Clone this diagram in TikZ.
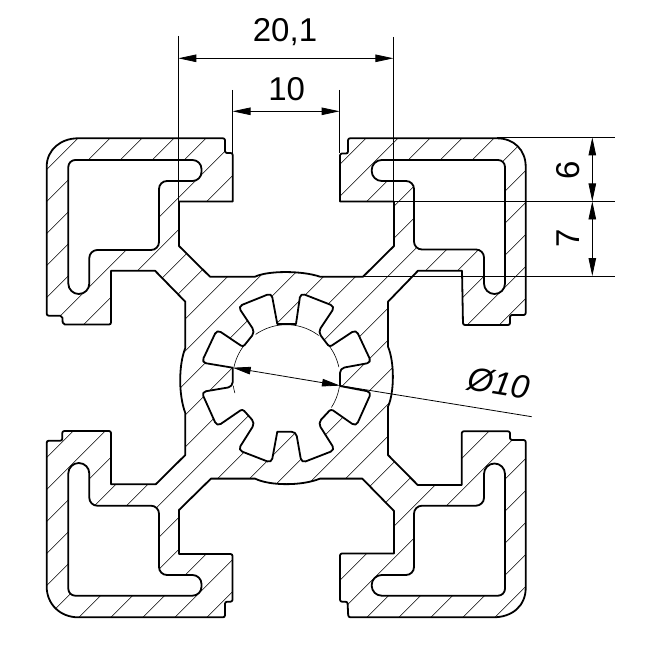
\documentclass[tikz,border=0pt]{standalone}
\usepackage{fontspec}
\setmainfont{Liberation Sans}
\usetikzlibrary{arrows.meta}
\tikzset{
  bold/.style={line width=1.8pt,line join=round,line cap=round},
  thinline/.style={line width=0.8pt},
  hatch/.style={line width=0.6pt},
  dimline/.style={line width=0.8pt,{Triangle[length=18pt,width=7.5pt]}-{Triangle[length=18pt,width=7.5pt]}},
  dimtext/.style={font=\fontsize{33}{33}\selectfont,inner sep=0pt},
}
\newcommand\profileoutline{
  (46.7,166.7) .. controls (46.7,149.5) and (61,138.3) .. (78,138.3)
  [rounded corners=2pt] -- (225,138.3) -- (225,153) -- (232.7,153)
  [sharp corners] -- (232.7,201.6) -- (179,201.6) -- (179,246) -- (210,276.7) -- (255,276.7)
  .. controls (268,270.5) and (302,270.5) .. (320,276.7)
  -- (363,276.7) -- (394,246) -- (394,201.6) -- (340,201.6)
  [rounded corners=2pt] -- (340,153.5) -- (348,153.5) -- (348,138.3)
  [sharp corners] -- (497,138.3) .. controls (514,138.3) and (525.7,150) .. (525.7,166.7)
  [rounded corners=2pt] -- (525.7,315) -- (510,315) -- (510,325) -- (463,325)
  [sharp corners] -- (462,270.7) -- (418,270.7) -- (388,301.7) -- (388,346.7)
  .. controls (394.5,362) and (394.5,392) .. (388,406.7)
  -- (388,455) -- (417.7,485) -- (461.7,485)
  [rounded corners=2pt] -- (461.7,431.3) -- (510,431.3) -- (510,440) -- (525.7,440)
  [sharp corners] -- (525.7,588) .. controls (525.7,606) and (512,617.3) .. (493.3,617.3)
  [rounded corners=2pt] -- (348.3,617.3) -- (347.5,601.7) -- (340,601.7) -- (340,553.5)
  [sharp corners] -- (394,553.5) -- (394,511) -- (362.3,478.6) -- (320,478.6)
  .. controls (302,486) and (270,486) .. (255,478.6)
  -- (211,478.6) -- (179,510) -- (179,554)
  [rounded corners=2pt] -- (232.5,554) -- (232.5,601.7) -- (225,601.7) -- (225,617.3)
  [sharp corners] -- (78.3,617.3) .. controls (60,617.3) and (46.7,604) .. (46.7,586.7)
  [rounded corners=2pt] -- (46.7,440.7) -- (62.3,440.7) -- (62.3,431) -- (111,431)
  [sharp corners] -- (111,484.3) -- (155.7,484.3) -- (185.3,455) -- (185.3,413)
  .. controls (178.5,395) and (178.5,365) .. (185.3,348)
  -- (185.3,301.7) -- (155,270.7) -- (111,270.7)
  [rounded corners=2pt] -- (111,324.5) -- (62.8,324.5) -- (62.3,315.7) -- (46.7,315.7)
  [sharp corners] -- cycle
}
\newcommand\cavityTL{
  [rounded corners=7pt] (68.3,220) -- (68.3,160) [rounded corners=9pt] -- (201.5,160) -- (201.5,181)
  [rounded corners=8pt] -- (159,181) -- (159,250) -- (89.3,250)
  [rounded corners=10.5pt] -- (89.3,294) -- (68.3,294) -- cycle
}
\newcommand\cavityTR{
  [rounded corners=7pt] (505,220) -- (505,160) [rounded corners=10pt] -- (371.7,160) -- (371.7,181)
  [rounded corners=8pt] -- (414,181) -- (414,249.5) -- (484,249.5)
  [rounded corners=10.5pt] -- (484,294) -- (505,294) -- cycle
}
\newcommand\cavityBL{
  [rounded corners=7pt] (68.3,540) -- (68.3,595.7) [rounded corners=9pt] -- (201.5,595.7) -- (201.5,575)
  [rounded corners=8pt] -- (159,575) -- (159,505.7) -- (89.3,505.7)
  [rounded corners=10.5pt] -- (89.3,463) -- (68.3,463) -- cycle
}
\newcommand\cavityBR{
  [rounded corners=7pt] (505,540) -- (505,595.7) [rounded corners=10pt] -- (371.7,595.7) -- (371.7,575)
  [rounded corners=8pt] -- (414,575) -- (414,505.7) -- (484,505.7)
  [rounded corners=10.5pt] -- (484,463.5) -- (505,463.5) -- cycle
}
\newcommand\starslot{
  [sharp corners] (286.5,324) -- (296,324) [rounded corners=4.5pt] -- (300.5,293) -- (335,306.5) -- (318,332) [rounded corners=2.5pt] -- (329.5,347)
  [rounded corners=4.5pt] -- (356,329.5) -- (371.5,362.5) -- (340,368.3)
  [sharp corners] -- (340,386) [rounded corners=4.5pt] -- (371.5,392) -- (356,426.5) [rounded corners=2.5pt] -- (331,409) [rounded corners=4.5pt] -- (318,423)
  -- (335,450) -- (301.5,463) -- (296,431.7) [sharp corners] -- (277.3,431.7) [rounded corners=4.5pt] -- (271.5,463) -- (238,450) -- (255,423) [rounded corners=2.5pt] -- (242.5,409)
  [rounded corners=4.5pt] -- (217,426.5) -- (201.5,392) -- (232.7,386.7)
  [sharp corners] -- (232.7,367.7) [rounded corners=4.5pt] -- (201.5,362.5) -- (217,329.5) [rounded corners=2.5pt] -- (243,347) [rounded corners=4.5pt] -- (255,332)
  -- (238,306.5) -- (271.5,293) [sharp corners] -- (277.3,324) -- cycle
}
\begin{document}
\begin{tikzpicture}[x=1pt,y=-1pt]
\useasboundingbox (0,0) rectangle (664,668);
\fill[white] (0,0) rectangle (664,668);
% hatching of the section
\begin{scope}
  \clip \profileoutline;
  \foreach \k in {-3,...,29}{
    \pgfmathsetmacro{\c}{248.3+32*\k}
    \draw[hatch] ({\c-100},100) -- ({\c-640},640);
  }
\end{scope}
\draw[bold] \profileoutline;
\filldraw[bold,fill=white] \cavityTL;
\filldraw[bold,fill=white] \cavityTR;
\filldraw[bold,fill=white] \cavityBL;
\filldraw[bold,fill=white] \cavityBR;
\filldraw[bold,fill=white] \starslot;
% thin circle of the bore
\coordinate (bore) at (286.4,378.3);
\foreach \a/\b in {53/125,143/168,12/37,-33/-9,188/196}{
  \draw[line width=0.6pt] plot[domain=\a:\b,samples=24,smooth] ({286.4+53.6*cos(\x)},{378.3-53.6*sin(\x)});
}
% dimension 20,1
\coordinate (a1top) at (178.3,36);
\coordinate (a1bot) at (178.3,201.6);
\coordinate (a2top) at (393.4,37);
\coordinate (a2bot) at (393.4,201.6);
\coordinate (a1) at (178.3,58.3);
\coordinate (a2) at (393.4,58.3);
\draw[thinline] (a1top) -- (a1bot);
\draw[thinline] (a2top) -- (a2bot);
\draw[dimline] (a1) -- (a2);
\node[dimtext] (t201) at (285,32) {20,1};
% dimension 10
\coordinate (b1top) at (232.5,90);
\coordinate (b1bot) at (232.5,153);
\coordinate (b2top) at (339.6,90);
\coordinate (b2bot) at (339.6,153);
\coordinate (b1) at (232.5,111.3);
\coordinate (b2) at (339.6,111.3);
\draw[thinline] (b1top) -- (b1bot);
\draw[thinline] (b2top) -- (b2bot);
\draw[dimline] (b1) -- (b2);
\node[dimtext] (t10) at (286.7,88.7) {10};
% dimensions 6 and 7
\coordinate (c1l) at (497,137.4);
\coordinate (c1r) at (615,137.4);
\coordinate (c2l) at (394,201.4);
\coordinate (c2r) at (615,201.4);
\coordinate (c3l) at (363,276);
\coordinate (c3r) at (615,276);
\coordinate (c1) at (592.3,137.4);
\coordinate (c2) at (592.3,201.4);
\coordinate (c3) at (592.3,276);
\draw[thinline] (c1l) -- (c1r);
\draw[thinline] (c2l) -- (c2r);
\draw[thinline] (c3l) -- (c3r);
\draw[dimline] (c1) -- (c2);
\draw[dimline] (c2) -- (c3);
\node[dimtext,rotate=90] (t6) at (568.3,170) {6};
\node[dimtext,rotate=90] (t7) at (568.3,238.3) {7};
% diameter
\coordinate (d1) at (232.7,367.7);
\coordinate (d2) at (340,385.6);
\coordinate (d3) at (531.7,416.7);
\draw[dimline] (d1) -- (d2);
\draw[thinline] (d2) -- (d3);
\node[dimtext,rotate=-9.3,font=\fontsize{33}{33}\selectfont\itshape] (tphi) at (499,383) {Ø10};
\end{tikzpicture}
\end{document}
